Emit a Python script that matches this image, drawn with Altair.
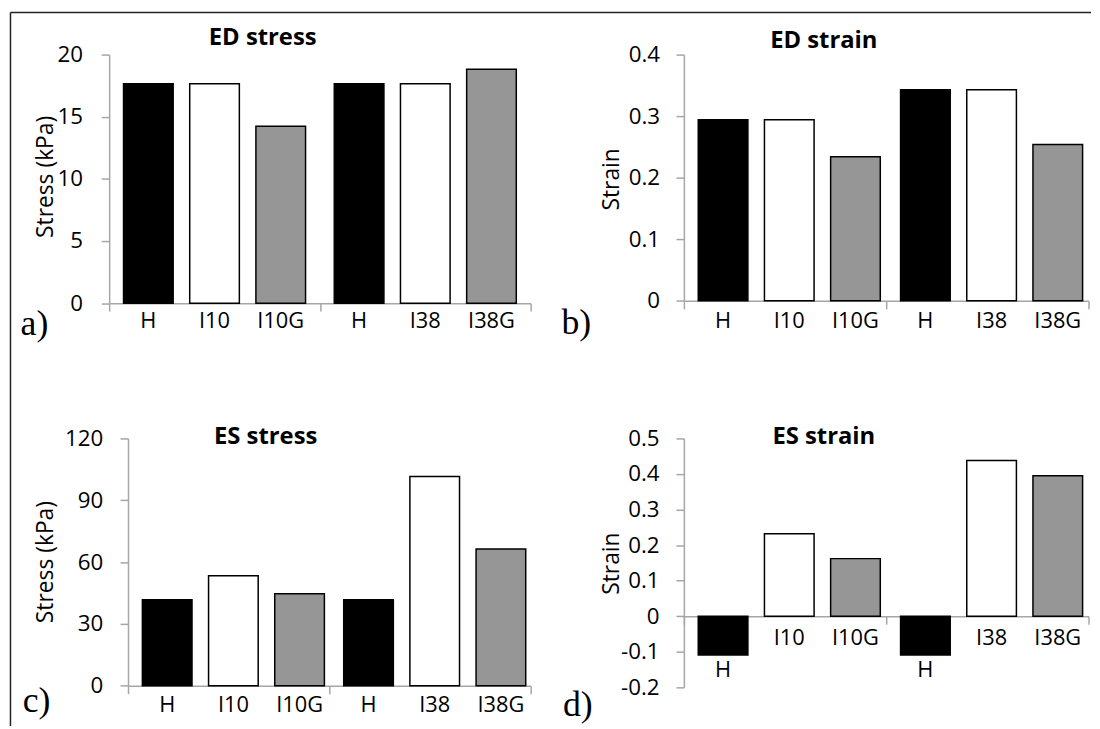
import altair as alt
import pandas as pd

# ---------------- data ----------------
labels = ["H", "I10", "I10G", "H", "I38", "I38G"]
groups = ["set10", "set10", "set10", "set38", "set38", "set38"]
slots = ["H", "I", "IG", "H", "I", "IG"]

ed_stress = [17.66, 17.66, 14.23, 17.66, 17.66, 18.83]
ed_strain = [0.294, 0.294, 0.234, 0.343, 0.343, 0.254]
es_stress = [41.7, 53.4, 44.6, 41.7, 101.5, 66.3]
es_strain = [-0.109, 0.232, 0.162, -0.109, 0.438, 0.395]

ticks_ed_stress = [0, 5, 10, 15, 20]
ticks_ed_strain = [0, 0.1, 0.2, 0.3, 0.4]
ticks_es_stress = [0, 30, 60, 90, 120]
ticks_es_strain = [-0.2, -0.1, 0, 0.1, 0.2, 0.3, 0.4, 0.5]

slot_order = ["H", "I", "IG"]
slot_fills = ["#000000", "#ffffff", "#969696"]

FONT = "Open Sans"
GRAY = "#a6a6a6"


def panel(values, title, letter, ytitle, ydomain, yticks, cfg, border=False):
    df = pd.DataFrame({"label": labels, "grp": groups, "slot": slots, "v": values})
    w, h = cfg["w"], cfg["h"]

    xscale_kw = dict(paddingInner=0, paddingOuter=0)
    if "xrange" in cfg:
        xscale_kw["range"] = cfg["xrange"]
    x = alt.X(
        "grp:N",
        scale=alt.Scale(**xscale_kw),
        axis=alt.Axis(
            labels=False, title=None, tickBand="extent", tickSize=8,
            domainColor=GRAY, tickColor=GRAY, domainWidth=1.5, tickWidth=1.5,
            offset=cfg.get("xoff", 0), grid=False,
        ),
    )
    xo = alt.XOffset("slot:N", sort=slot_order,
                     scale=alt.Scale(paddingInner=0.25, paddingOuter=0.217))
    yscale = alt.Scale(domain=ydomain, nice=False, zero=False)
    yaxis = alt.Axis(
        values=yticks, title=ytitle, tickSize=8, labelPadding=cfg["lp"],
        labelExpr="'' + datum.value", grid=False,
        domainColor=GRAY, tickColor=GRAY, domainWidth=1.5, tickWidth=1.5,
        titleX=cfg["tx"], titleY=cfg["ty"], titleAngle=-90,
        titleBaseline="alphabetic", titleAlign="center",
        offset=cfg.get("yoff", 0),
    )

    base = alt.Chart(df)
    bars = base.mark_bar(stroke="black", strokeWidth=1.5).encode(
        x=x, xOffset=xo,
        y=alt.Y("v:Q", scale=yscale, axis=yaxis),
        fill=alt.Fill("slot:N", scale=alt.Scale(domain=slot_order, range=slot_fills), legend=None),
    )
    lab_pos = base.transform_filter("datum.v >= 0").transform_calculate(ly="0").mark_text(
        font=FONT, fontSize=22, baseline="alphabetic", dy=cfg["dy"], color="black"
    ).encode(x=x, xOffset=xo, y=alt.Y("ly:Q", scale=yscale, axis=yaxis), text="label:N")
    lab_neg = base.transform_filter("datum.v < 0").mark_text(
        font=FONT, fontSize=22, baseline="alphabetic", dy=cfg.get("ndy", 22), color="black"
    ).encode(x=x, xOffset=xo, y=alt.Y("v:Q", scale=yscale, axis=yaxis), text="label:N")

    one = alt.Data(values=[{}])
    ttl = alt.Chart(one).mark_text(
        font=FONT, fontSize=24, fontWeight="bold", align="center", baseline="alphabetic", color="black"
    ).encode(x=alt.value(cfg["tix"]), y=alt.value(cfg["tiy"]), text=alt.value(title))
    let = alt.Chart(one).mark_text(
        font="Liberation Serif", fontSize=36, align="left", baseline="alphabetic", color="black"
    ).encode(x=alt.value(cfg["lx"]), y=alt.value(cfg["ly"]), text=alt.value(letter))

    layers = [bars, lab_pos, lab_neg, ttl, let]
    if border:
        vline = alt.Chart(one).mark_rule(color="#222222", strokeWidth=1.5).encode(
            x=alt.value(-99.5), y=alt.value(-42.4), y2=alt.value(677))
        hline = alt.Chart(one).mark_rule(color="#222222", strokeWidth=1.5).encode(
            x=alt.value(-99.5), x2=alt.value(990), y=alt.value(-42.4))
        layers += [vline, hline]
    return alt.layer(*layers).properties(width=w, height=h)


pa = panel(ed_stress, "ED stress", "a)", "Stress (kPa)", [0, 20], ticks_ed_stress,
           dict(w=425, h=250.6, lp=19, tx=-57.5, ty=122.8, dy=25,
                tix=154.8, tiy=-9.2, lx=-89.3, ly=282.3), border=True)
pb = panel(ed_strain, "ED strain", "b)", "Strain", [0, 0.4], ticks_ed_strain,
           dict(w=408, h=248.3, lp=16.5, tx=-65.8, ty=125.3, dy=27,
                tix=141.1, tiy=-6.7, lx=-123.5, ly=281.3))
pc = panel(es_stress, "ES stress", "c)", "Stress (kPa)", [0, 120], ticks_es_stress,
           dict(w=425, h=249.4, lp=17.5, tx=-76.5, ty=124.2, dy=26,
                xrange=[19, 425], yoff=-19,
                tix=157.8, tiy=6, lx=-87.2, ly=275.7))
pd_ = panel(es_strain, "ES strain", "d)", "Strain", [-0.2, 0.5], ticks_es_strain,
            dict(w=408, h=251, lp=17, tx=-65.8, ty=125.7, dy=29, ndy=22,
                 xoff=-(251 * 0.2 / 0.7),
                 tix=141.1, tiy=5.7, lx=-122, ly=279.7))

chart = alt.concat(
    pa, pb, pc, pd_, columns=2, bounds="flush", align="each",
    spacing={"row": 136, "column": 154.5},
).properties(
    padding={"left": 1, "top": 0, "right": 0, "bottom": 0},
    background="white",
).configure_view(stroke=None).configure_axis(
    labelFont=FONT, labelFontSize=22.5, labelColor="black",
    titleFont=FONT, titleFontSize=23, titleFontWeight="normal", titleColor="black",
)

chart.save("out.html", embed_options={"renderer": "svg", "actions": False})
